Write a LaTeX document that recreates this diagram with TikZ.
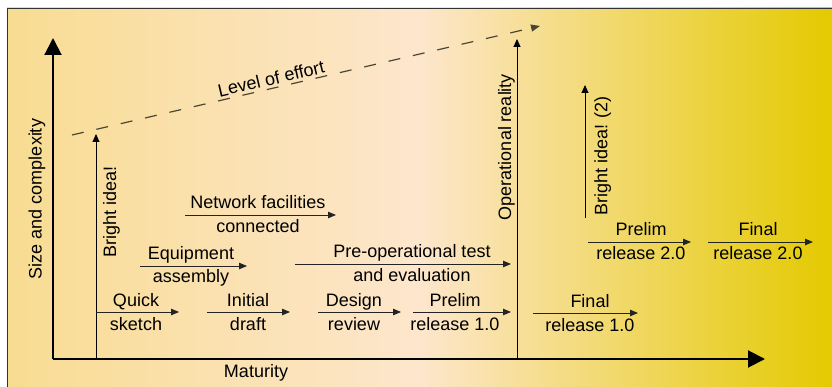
\documentclass[tikz,border=0pt]{standalone}
\usepackage{fontspec}
\setmainfont{Liberation Sans}
\usepackage{tikz}
\definecolor{bgleft}{HTML}{F8DC92}
\definecolor{bgmid}{HTML}{FDE6CC}
\definecolor{bgright}{HTML}{E4CA00}
\definecolor{inkgray}{RGB}{35,35,35}
\definecolor{dashgray}{RGB}{75,70,50}
\usetikzlibrary{arrows.meta,positioning}
\tikzset{
    axis/.style={-{Triangle[length=17pt,width=17pt]}, line width=2pt, color=black},
    phase/.style={-{Triangle[length=8pt,width=6.5pt]}, line width=0.9pt, color=inkgray},
    idea/.style={-{Triangle[length=8pt,width=7pt]}, line width=0.9pt, color=black},
    effort/.style={-{Triangle[length=9pt,width=7pt]}, line width=1.2pt, dash pattern=on 12pt off 13pt, color=dashgray},
    lbl/.style={font=\fontsize{18}{21}\selectfont, inner sep=0pt, text=black},
}

\begin{document}
\begin{tikzpicture}[x=1pt, y=-1pt]
    \useasboundingbox (0,0) rectangle (832,387);
    % Background and frame
    \shade[left color=bgleft, right color=bgright, middle color=bgmid] (7,8) rectangle (832,387);
    \draw[line width=0.8pt, color=black!80] (7,387) -- (7,8) -- (832,8);

    % Axes
    \coordinate (origin) at (53,359);
    \coordinate (ytop) at (53,38);
    \coordinate (xend) at (765,359);
    \draw[axis] (origin) -- (ytop);
    \draw[axis] (origin) -- (xend);
    \node[lbl, rotate=90] (size) at (37,199) {Size and complexity};
    \node[lbl] (maturity) at (256,373) {Maturity};

    % Level of effort
    \coordinate (eff0) at (72,135);
    \coordinate (eff1) at (540,26);
    \draw[effort] (eff0) -- node[lbl, sloped, above, pos=0.43, inner sep=2.5pt] (effort) {Level of effort} (eff1);

    % Vertical events
    \coordinate (idea0) at (96,359);
    \coordinate (idea1) at (96,134);
    \draw[idea] (idea0) -- (idea1);
    \node[lbl, rotate=90, anchor=north] (bright) at (103,212) {Bright idea!};

    \coordinate (oper0) at (517,359);
    \coordinate (oper1) at (517,39);
    \draw[idea] (oper0) -- (oper1);
    \node[lbl, rotate=90, anchor=south] (opreal) at (515,147) {Operational reality};

    \coordinate (ideb0) at (585,218);
    \coordinate (ideb1) at (585,85);
    \draw[idea] (ideb0) -- (ideb1);
    \node[lbl, rotate=90, anchor=north] (bright2) at (594,156) {Bright idea! (2)};

    % Bottom row
    \coordinate (qs0) at (96,312);
    \coordinate (qs1) at (179,312);
    \draw[phase] (qs0) -- (qs1);
    \node[lbl, anchor=base] (quick) at (136,306) {Quick};
    \node[lbl, anchor=base] (sketch) at (136,330) {sketch};

    \coordinate (id0) at (207,312);
    \coordinate (id1) at (290,312);
    \draw[phase] (id0) -- (id1);
    \node[lbl, anchor=base] (initial) at (248,306) {Initial};
    \node[lbl, anchor=base] (draft) at (248,330) {draft};

    \coordinate (dr0) at (318,312);
    \coordinate (dr1) at (401,312);
    \draw[phase] (dr0) -- (dr1);
    \node[lbl, anchor=base] (design) at (354,306) {Design};
    \node[lbl, anchor=base] (review) at (354,330) {review};

    \coordinate (pa0) at (413,312);
    \coordinate (pa1) at (511,312);
    \draw[phase] (pa0) -- (pa1);
    \node[lbl, anchor=base] (prelima) at (455,306) {Prelim};
    \node[lbl, anchor=base] (relpa) at (455,330) {release 1.0};

    \coordinate (fa0) at (533,313);
    \coordinate (fa1) at (638,313);
    \draw[phase] (fa0) -- (fa1);
    \node[lbl, anchor=base] (finala) at (590,307) {Final};
    \node[lbl, anchor=base] (relfa) at (590,331) {release 1.0};

    % Middle rows
    \coordinate (ea0) at (140,266);
    \coordinate (ea1) at (247,266);
    \draw[phase] (ea0) -- (ea1);
    \node[lbl, anchor=base] (equip) at (191,260) {Equipment};
    \node[lbl, anchor=base] (assembly) at (191,283) {assembly};

    \coordinate (pt0) at (295,264);
    \coordinate (pt1) at (511,264);
    \draw[phase] (pt0) -- (pt1);
    \node[lbl, anchor=base] (preop) at (412,258) {Pre-operational test};
    \node[lbl, anchor=base] (evaluation) at (412,281) {and evaluation};

    \coordinate (nf0) at (185,215);
    \coordinate (nf1) at (336,215);
    \draw[phase] (nf0) -- (nf1);
    \node[lbl, anchor=base] (network) at (258,209) {Network facilities};
    \node[lbl, anchor=base] (connected) at (258,233) {connected};

    % Release 2.0
    \coordinate (pb0) at (588,242);
    \coordinate (pb1) at (691,242);
    \draw[phase] (pb0) -- (pb1);
    \node[lbl, anchor=base] (prelimb) at (641,236) {Prelim};
    \node[lbl, anchor=base] (relpb) at (641,260) {release 2.0};

    \coordinate (fb0) at (708,242);
    \coordinate (fb1) at (813,242);
    \draw[phase] (fb0) -- (fb1);
    \node[lbl, anchor=base] (finalb) at (758,236) {Final};
    \node[lbl, anchor=base] (relfb) at (758,260) {release 2.0};
\end{tikzpicture}
\end{document}
